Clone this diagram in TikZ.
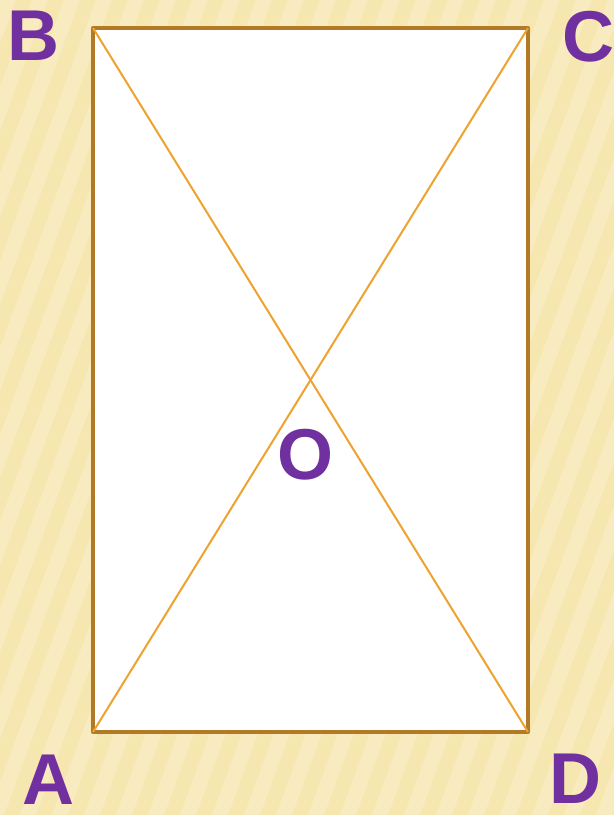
\documentclass[tikz,border=0pt]{standalone}
\usepackage{fontspec}
\setmainfont{Liberation Sans}
\usepackage{tikz}
\usetikzlibrary{positioning,calc}
\definecolor{creambg}{RGB}{246,230,176}
\definecolor{creamlight}{RGB}{252,243,212}
\definecolor{framebrown}{RGB}{178,122,38}
\definecolor{diagorange}{RGB}{238,162,48}
\definecolor{letterpurple}{RGB}{112,48,160}

\begin{document}
\begin{tikzpicture}[
  x=1pt, y=-1pt,
  lbl/.style={inner sep=0pt,text=letterpurple,font=\fontsize{72}{72}\selectfont\bfseries},
  frame/.style={draw=framebrown,line width=4pt,fill=white,line join=round},
  diag/.style={draw=diagorange,line width=2pt}
]
% background with soft stripes
\fill[creambg] (0,0) rectangle (614,815);
\begin{scope}
  \clip (0,0) rectangle (614,815);
  \foreach \s in {-300,-268,...,660}
    \fill[creamlight,opacity=0.45] (\s,815) -- (\s+16,815) -- (\s+316,0) -- (\s+300,0) -- cycle;
\end{scope}
\useasboundingbox (0,0) rectangle (614,815);

% corners of the rectangle
\coordinate (a) at (93,732);
\coordinate (b) at (93,28);
\coordinate (c) at (528,28);
\coordinate (d) at (528,732);

\draw[frame] (a) -- (b) -- (c) -- (d) -- cycle;
\draw[diag] (b) -- (d);
\draw[diag] (a) -- (c);

% labels
\node[lbl] (lb) at (33,36) {B};
\node[lbl] (lc) at (588,37) {C};
\node[lbl] (la) at (48,780) {A};
\node[lbl] (ld) at (575,779) {D};
\node[lbl] (lo) at (305,455) {O};
\end{tikzpicture}
\end{document}
